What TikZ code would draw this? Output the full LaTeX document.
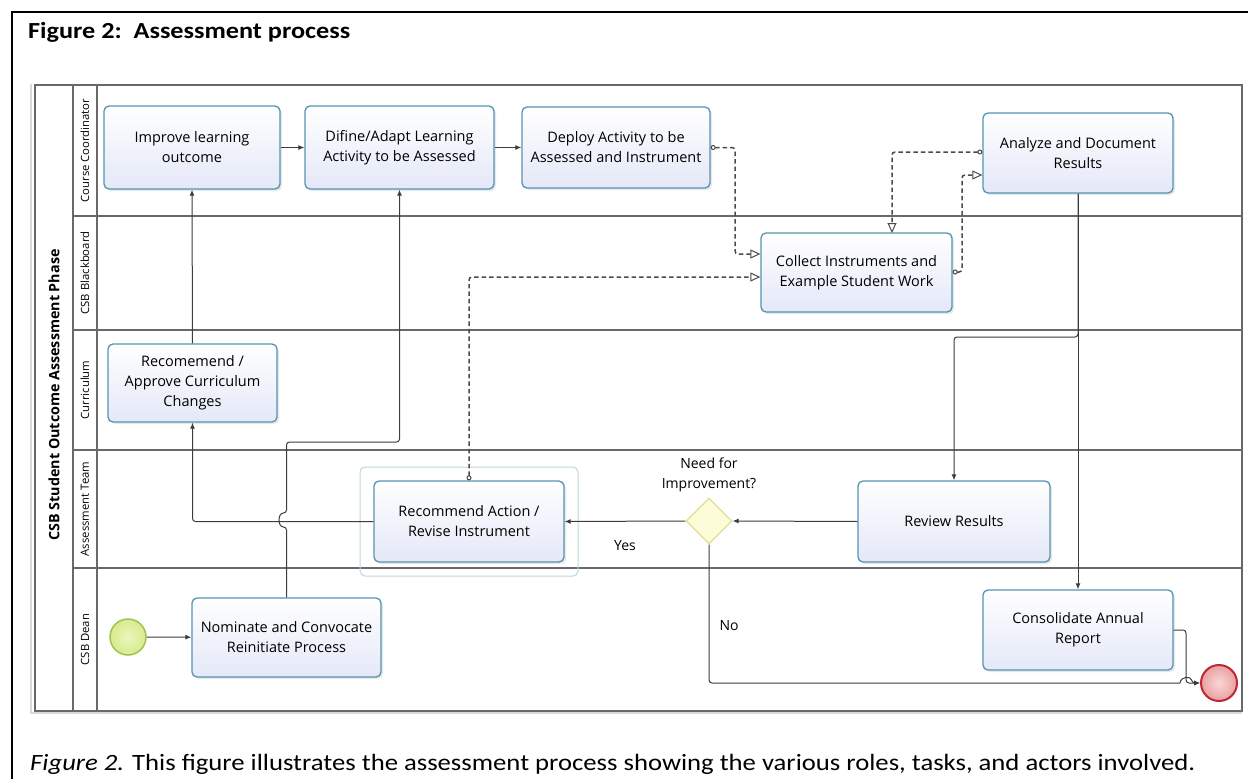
\documentclass[tikz,border=0pt]{standalone}
\usepackage{fontspec}
\setmainfont{Carlito}
\newfontfamily\capfont[FakeStretch=1.14]{Carlito}
\newfontfamily\diagfont{Open Sans}
\usetikzlibrary{arrows.meta,shadows,shapes.geometric,calc}
\definecolor{taskborder}{RGB}{84,148,178}
\definecolor{taskfill}{RGB}{228,232,248}
\definecolor{poolcol}{RGB}{105,105,105}
\definecolor{flowcol}{RGB}{60,60,60}
\definecolor{msgcol}{RGB}{75,75,75}
\definecolor{startfill}{RGB}{236,246,190}
\definecolor{startfilldark}{RGB}{214,235,140}
\definecolor{startborder}{RGB}{160,196,80}
\definecolor{endfill}{RGB}{250,215,215}
\definecolor{endfilldark}{RGB}{232,160,160}
\definecolor{endborder}{RGB}{190,40,50}
\definecolor{gwfill}{RGB}{252,252,216}
\definecolor{gwborder}{RGB}{222,222,150}
\definecolor{groupcol}{RGB}{190,212,222}
\tikzset{
  task/.style={draw=taskborder, line width=1.3bp, rounded corners=5bp,
    top color=white, bottom color=taskfill, align=center, inner sep=0pt,
    font={\diagfont\fontsize{14.5bp}{20bp}\selectfont},
    drop shadow={opacity=0.18, shadow xshift=2bp, shadow yshift=-2bp}},
  seq/.style={draw=flowcol, line width=1bp, rounded corners=3bp,
    -{Latex[length=6bp,width=5bp]}},
  msg/.style={draw=msgcol, line width=1.5bp, dash pattern=on 4.5bp off 3bp,
    rounded corners=3bp,
    {Circle[open,length=5bp,width=5bp,line width=1bp]}-{Triangle[open,length=10bp,width=9bp,line width=1bp]}},
  pool/.style={draw=poolcol, line width=1.2bp},
  lanelbl/.style={rotate=90, font={\diagfont\fontsize{11.3bp}{13bp}\selectfont}},
  lbl/.style={align=center, inner sep=0pt, font={\diagfont\fontsize{14bp}{20bp}\selectfont}},
}
\begin{document}
\begin{tikzpicture}[x=1bp,y=-1bp]
\useasboundingbox (0,0) rectangle (1248,779);
% outer frame
\draw[black, line width=2bp] (12,779) -- (12,12) -- (1248,12);
% title and caption
\node[anchor=base west, inner sep=0pt, font={\capfont\fontsize{23bp}{27bp}\selectfont\bfseries}] (title) at (28,39) {Figure 2:\ \ Assessment process};
\node[anchor=base west, inner sep=0pt, font={\capfont\fontsize{23.4bp}{27bp}\selectfont}] (caption) at (30,770) {\textit{Figure 2.} This figure illustrates the assessment process showing the various roles, tasks, and actors involved.};
% pool
\draw[gray!30, line width=2bp] (31,84) -- (31,713) -- (1242,713);
\draw[pool] (35,85) rectangle (1242,711);
\draw[pool] (73,85) -- (73,711);
\draw[pool] (97,85) -- (97,711);
\foreach \yy in {216,330,450,568} { \draw[pool] (73,\yy) -- (1242,\yy); }
\node[rotate=90, font={\diagfont\fontsize{14.3bp}{16bp}\selectfont\bfseries}] (pooltitle) at (54,395) {CSB Student Outcome Assessment Phase};
\node[lanelbl] (lcc) at (85,150.5) {Course Coordinator};
\node[lanelbl] (lbb) at (85,273) {CSB Blackboard};
\node[lanelbl] (lcur) at (85,390) {Curriculum};
\node[lanelbl] (lat) at (85,509) {Assessment Team};
\node[lanelbl] (ldean) at (85,639.5) {CSB Dean};
% group around recommend action
\draw[groupcol, line width=1bp, rounded corners=5bp] (360,467) rectangle (578,576);
% tasks
\node[task, minimum width=176bp, minimum height=83bp] (improve) at (192,147.5) {Improve learning\\outcome};
\node[task, minimum width=189bp, minimum height=83bp] (define) at (399.5,147.5) {Difine/Adapt Learning\\Activity to be Assessed};
\node[task, minimum width=188bp, minimum height=81bp] (deploy) at (616,147.5) {Deploy Activity to be\\Assessed and Instrument};
\node[task, minimum width=191bp, minimum height=79bp] (collect) at (856.5,272.5) {Collect Instruments and\\Example Student Work};
\node[task, minimum width=190bp, minimum height=80bp] (analyze) at (1078,153) {Analyze and Document\\Results};
\node[task, minimum width=169bp, minimum height=78bp] (recomm) at (192.5,383) {Recomemend /\\Approve Curriculum\\Changes};
\node[task, minimum width=190bp, minimum height=81bp] (recact) at (469,521.5) {Recommend Action /\\Revise Instrument};
\node[task, minimum width=192bp, minimum height=81bp] (review) at (954,521.5) {Review Results};
\node[task, minimum width=190bp, minimum height=80bp] (consol) at (1078,630) {Consolidate Annual\\Report};
\node[task, minimum width=189bp, minimum height=79bp] (nominate) at (286.5,637.5) {Nominate and Convocate\\Reinitiate Process};
% events and gateway
\node[circle, draw=startborder, line width=1.5bp, inner color=startfill, outer color=startfilldark, minimum size=36bp, inner sep=0pt] (start) at (128,637) {};
\node[circle, draw=endborder, line width=2bp, inner color=endfill, outer color=endfilldark, minimum size=36bp, inner sep=0pt] (end) at (1219,683) {};
\node[diamond, draw=gwborder, line width=1.2bp, fill=gwfill, minimum width=46bp, minimum height=46bp, inner sep=0pt] (gw) at (709,521) {};
\node[lbl] (needlbl) at (709,475) {Need for\\Improvement?};
\node[lbl] (yes) at (625,546) {Yes};
\node[lbl] (no) at (729,626) {No};
% helper coordinates
\coordinate (hopA) at (286.5,527);
\coordinate (hopB) at (286.5,513);
\coordinate (bendN) at (286.5,442);
\coordinate (m1) at (735,254);
\coordinate (m2) at (469,277);
\coordinate (m3) at (892,152);
\coordinate (collecttop) at (892,233);
\coordinate (m4) at (962,272);
\coordinate (m5) at (962,175);
\coordinate (split) at (1078,337);
\coordinate (noA) at (709,683);
\coordinate (noB) at (1180,683);
\coordinate (noC) at (1192,683);
\coordinate (cj) at (1186,683);
% sequence flows
\draw[seq] (start) -- (nominate);
\draw[seq] (nominate.north) -- (hopA) .. controls +(-9,0) and +(-9,0) .. (hopB) -- (bendN) -| (define.south);
\draw[seq] (recact.west) -| (recomm.south);
\draw[seq] (recomm.north) -- (improve.south);
\draw[seq] (improve) -- (define);
\draw[seq] (define) -- (deploy);
\draw[seq] (analyze.south) -- (split) -| (review.north);
\draw[seq] (analyze.south) -- (consol.north);
\draw[seq] (review.west) -- (gw.east);
\draw[seq] (gw.west) -- (recact.east);
\draw[draw=flowcol, line width=1bp, rounded corners=3bp] (gw.south) -- (noA) -- (noB);
\draw[seq] (noB) .. controls +(1,-7) and +(-1,-7) .. (noC) -- (end.west);
\draw[seq] (consol.east) -| (cj) -- (end.west);
% message flows
\draw[msg] (deploy.east) -| (m1) -- (m1 -| collect.west);
\draw[msg] (recact.north) -- (m2) -- (m2 -| collect.west);
\draw[msg] (m3 -| analyze.west) -- (m3) -- (collecttop);
\draw[msg] (m4 -| collect.east) -- (m4) -- (m5) -- (m5 -| analyze.west);
\end{tikzpicture}
\end{document}
